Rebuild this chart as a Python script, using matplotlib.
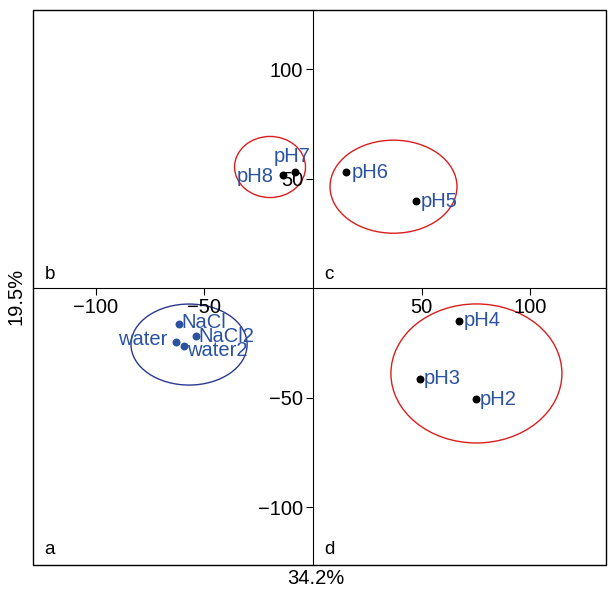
import matplotlib.pyplot as plt
from matplotlib.patches import Ellipse, Rectangle

plt.rcParams['font.family'] = ['Liberation Sans', 'DejaVu Sans']

# sample scores (PC1, PC2)
ph_names = ['pH2', 'pH3', 'pH4', 'pH5', 'pH6', 'pH7', 'pH8']
ph_x = [75.1, 49.3, 67.3, 47.5, 15.2, -8.3, -13.8]
ph_y = [-50.7, -41.5, -15.0, 39.7, 53.0, 53.0, 51.6]

salt_names = ['NaCl', 'NaCl2', 'water', 'water2']
salt_x = [-61.8, -53.9, -63.1, -59.4]
salt_y = [-16.4, -21.9, -24.7, -26.5]

# group ellipses: center x, center y, width, height, colour
ell_cx = [-19.8, 37.1, 75.3, -57.1]
ell_cy = [55.3, 46.3, -39.0, -25.8]
ell_w = [32.7, 58.5, 78.8, 53.5]
ell_h = [27.9, 42.5, 63.5, 37.0]
ell_col = ['#d91e1e', '#d91e1e', '#d91e1e', '#2b3990']

label_col = '#2a52a0'
pc1_label = '34.2%'
pc2_label = '19.5%'
fs = 14.5

fig = plt.figure(figsize=(6.08, 5.89), dpi=100)
ax = fig.add_axes([0.0543, 0.0407, 0.9424, 0.9423])
ax.set_xlim(-129, 135)
ax.set_ylim(-126.5, 127)

for cx, cy, w, h, c in zip(ell_cx, ell_cy, ell_w, ell_h, ell_col):
    ax.add_patch(Ellipse((cx, cy), w, h, fill=False, edgecolor=c, lw=1.0))

ax.scatter(ph_x, ph_y, s=22, color='black', zorder=3)
ax.scatter(salt_x, salt_y, s=22, color=label_col, zorder=3)

# label offsets (points) and alignment
ph_off = {'pH2': (3, 0, 'left'), 'pH3': (3, 0, 'left'), 'pH4': (3, 0, 'left'),
          'pH5': (3, 0, 'left'), 'pH6': (4, 0, 'left'), 'pH7': (11, 11, 'right'),
          'pH8': (-7, -1, 'right')}
for n, x, y in zip(ph_names, ph_x, ph_y):
    dx, dy, ha = ph_off[n]
    ax.annotate(n, (x, y), xytext=(dx, dy), textcoords='offset points',
                ha=ha, va='center', color=label_col, fontsize=fs)

salt_off = {'NaCl': (2, 1, 'left'), 'NaCl2': (2, 0, 'left'),
            'water': (-6, 2, 'right'), 'water2': (2, -3, 'left')}
for n, x, y in zip(salt_names, salt_x, salt_y):
    dx, dy, ha = salt_off[n]
    ax.annotate(n, (x, y), xytext=(dx, dy), textcoords='offset points',
                ha=ha, va='center', color=label_col, fontsize=fs)

# axes through origin
ax.spines['left'].set_position('zero')
ax.spines['bottom'].set_position('zero')
ax.spines['top'].set_visible(False)
ax.spines['right'].set_visible(False)
ax.add_patch(Rectangle((0, 0), 1, 1, transform=ax.transAxes, fill=False,
                       edgecolor='black', lw=1.0, clip_on=False))
ax.set_xticks([-100, -50, 50, 100])
ax.set_yticks([-100, -50, 50, 100])
ax.tick_params(labelsize=fs, length=5, direction='out', pad=2)

# quadrant letters
ax.text(0.02, 0.02, 'a', transform=ax.transAxes, fontsize=fs - 1)
ax.text(0.02, 0.515, 'b', transform=ax.transAxes, fontsize=fs - 1)
ax.text(0.508, 0.515, 'c', transform=ax.transAxes, fontsize=fs - 1)
ax.text(0.508, 0.02, 'd', transform=ax.transAxes, fontsize=fs - 1)

fig.text(316 / 608, 1 - 579 / 589, pc1_label, ha='center', va='center', fontsize=fs)
fig.text(16 / 608, 1 - 296 / 589, pc2_label, ha='center', va='center',
         rotation=90, fontsize=fs)

fig.savefig('out.png', dpi=100)
